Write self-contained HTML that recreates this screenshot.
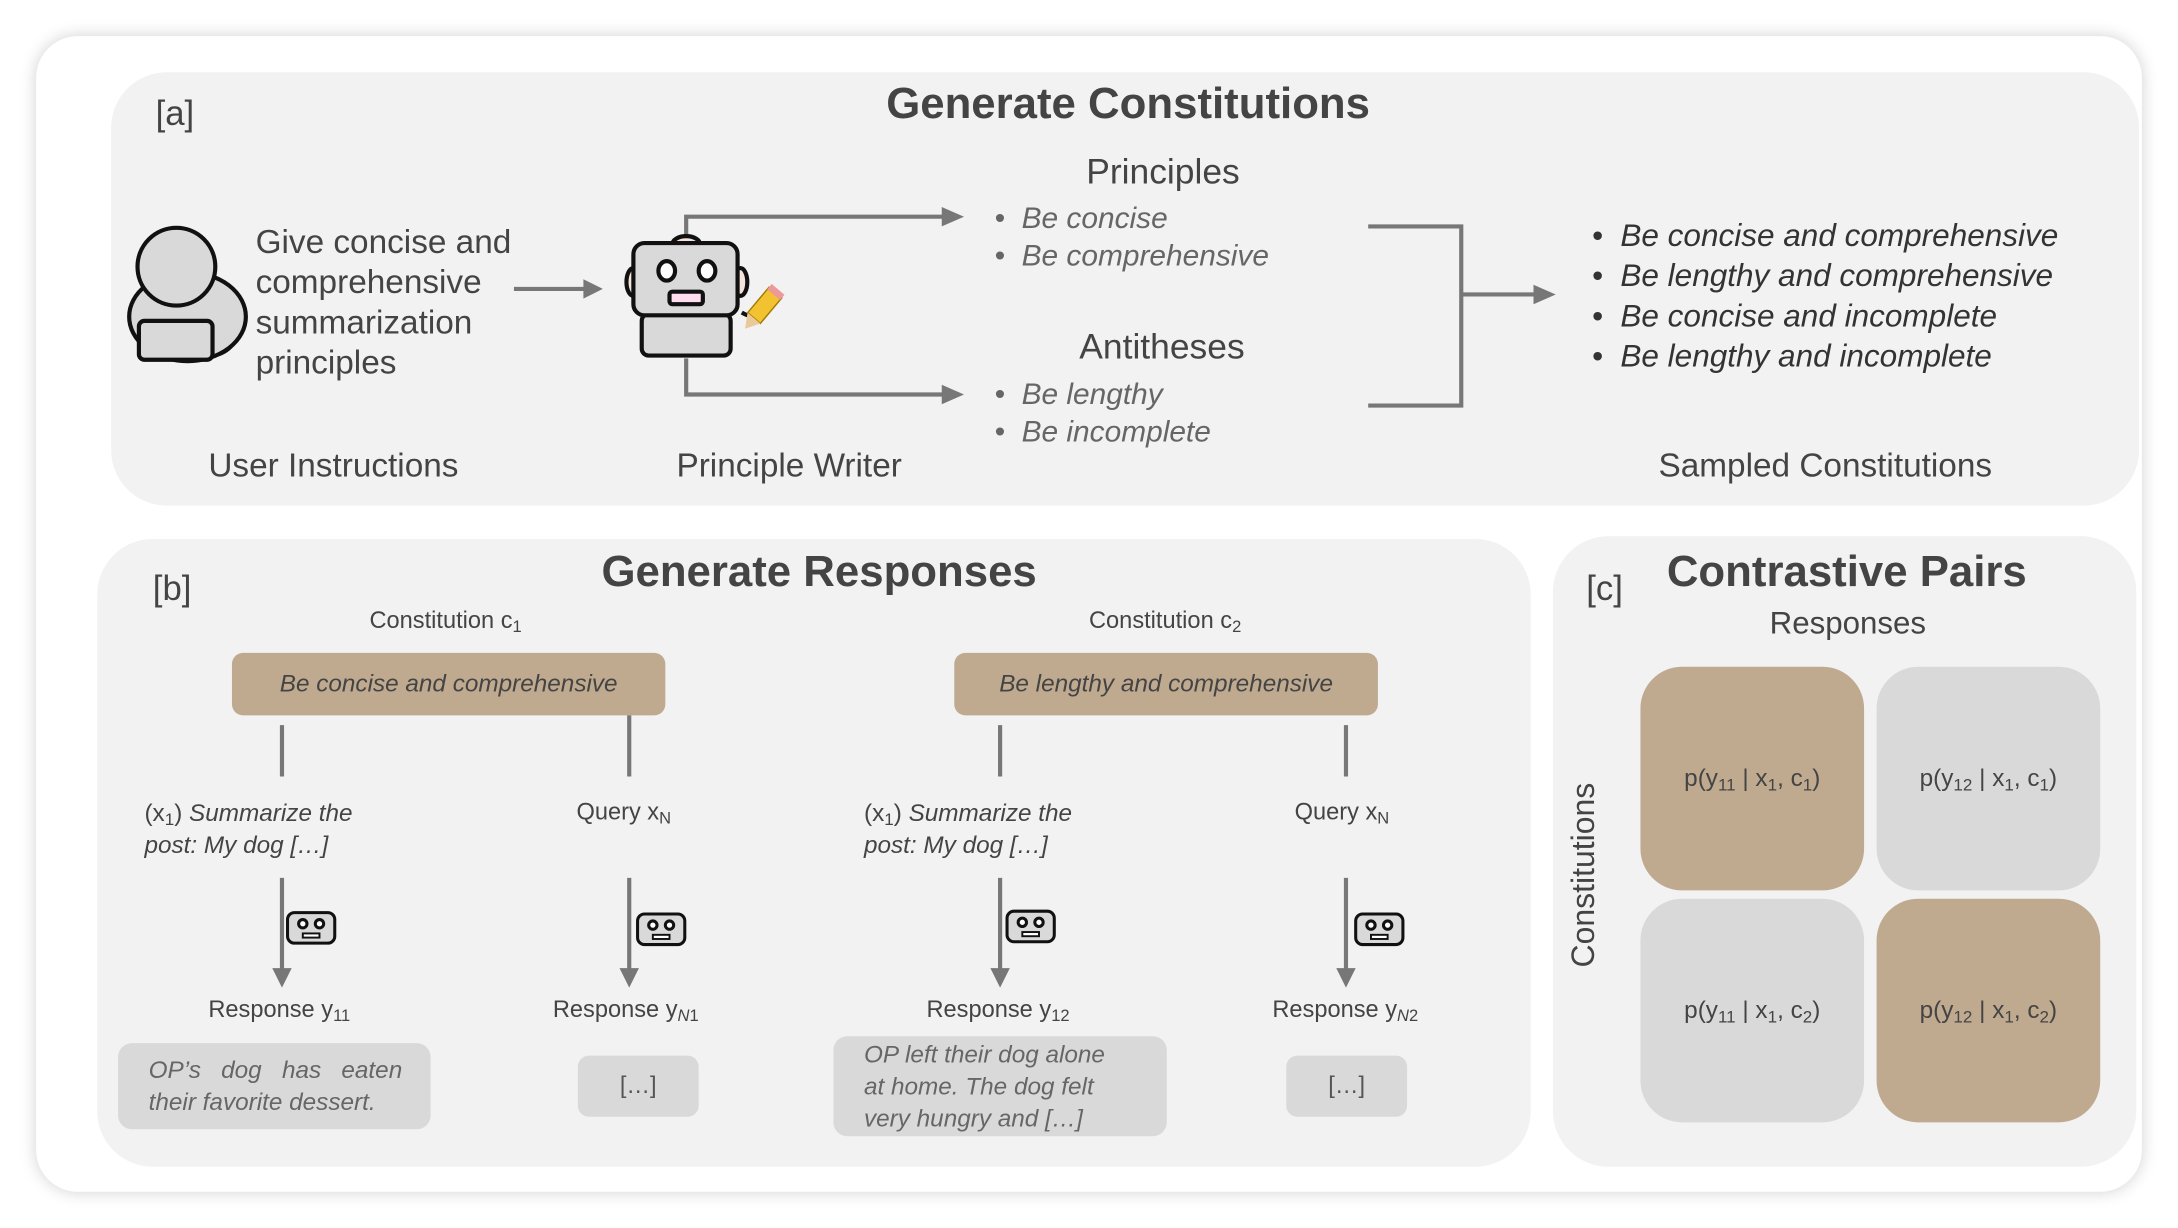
<!DOCTYPE html>
<html><head><meta charset="utf-8"><style>
html,body{margin:0;padding:0;width:2178px;height:1228px;overflow:hidden;background:#fff;}
#s{position:absolute;left:0;top:0;width:1568px;height:884px;transform:scale(1.38903);transform-origin:0 0;font-family:"Liberation Sans",sans-serif;color:#444;}
.a{position:absolute;}
.p{position:absolute;background:#f2f2f2;}
.t{position:absolute;white-space:nowrap;}
.it{font-style:italic;color:#666;}
.box{position:absolute;border-radius:8px;display:flex;align-items:center;justify-content:center;}
.tan{background:#bfaa90;}
.gr{background:#d9d9d9;}
sub{font-size:0.7em;vertical-align:-0.25em;line-height:0;}
.cell{position:absolute;width:161px;height:161px;border-radius:30px;display:flex;align-items:center;justify-content:center;font-size:17.5px;color:#444;}
</style></head><body><div id="s">
<div class="a" style="left:26px;top:26px;width:1516px;height:832px;background:#fff;border-radius:30px;box-shadow:0 0 12px rgba(0,0,0,0.18);"></div>
<!-- panel a -->
<div class="p" style="left:80px;top:52px;width:1460px;height:312px;border-radius:40px;"></div>
<div class="t" style="left:112px;top:68px;font-size:25px;">[a]</div>
<div class="t" style="left:638px;top:56px;font-size:31.5px;font-weight:bold;">Generate Constitutions</div>
<div class="t" style="left:184px;top:160px;font-size:24px;line-height:29px;">Give concise and<br>comprehensive<br>summarization<br>principles</div>
<div class="t" style="left:150px;top:322px;font-size:24px;">User Instructions</div>
<div class="t" style="left:487px;top:322px;font-size:24px;">Principle Writer</div>
<div class="t" style="left:1194px;top:322px;font-size:24px;">Sampled Constitutions</div>
<div class="t" style="left:782px;top:110px;font-size:25.5px;">Principles</div>
<div class="t" style="left:777px;top:236px;font-size:25.5px;">Antitheses</div>
<div class="t it" style="left:716px;top:144px;font-size:21.5px;line-height:27px;">•&nbsp; Be concise<br>•&nbsp; Be comprehensive</div>
<div class="t it" style="left:716px;top:271px;font-size:21.5px;line-height:27px;">•&nbsp; Be lengthy<br>•&nbsp; Be incomplete</div>
<div class="t" style="left:1146px;top:155px;font-size:22.7px;line-height:29px;font-style:italic;color:#333;">•&nbsp; Be concise and comprehensive<br>•&nbsp; Be lengthy and comprehensive<br>•&nbsp; Be concise and incomplete<br>•&nbsp; Be lengthy and incomplete</div>
<svg class="a" style="left:0;top:0" width="1568" height="884">
<g stroke="#777" stroke-width="3" fill="none">
<line x1="370" y1="208" x2="422" y2="208"/>
<polyline points="494,175 494,156 680,156"/>
<polyline points="494,258 494,284 680,284"/>
<polyline points="985,163 1052,163 1052,292 985,292"/>
<line x1="1052" y1="212" x2="1106" y2="212"/>
</g>
<g fill="#777">
<polygon points="420,201 434,208 420,215"/>
<polygon points="678,149 694,156 678,163"/>
<polygon points="678,277 694,284 678,291"/>
<polygon points="1104,205 1120,212 1104,219"/>
</g>
<g stroke="#111" stroke-width="3" fill="#d9d9d9">
<path d="M150,212 a20,20 0 1 1 1,44 z"/>
<ellipse cx="135" cy="228" rx="42" ry="32"/>
<circle cx="127" cy="192" r="28"/>
<rect x="100" y="231" width="53" height="28" rx="4"/>
</g>
<g stroke="#111" stroke-width="3" fill="#d9d9d9">
<path d="M534,225 q14,8 20,-6" fill="none"/>
<rect x="462" y="226" width="64" height="30" rx="5"/>
<ellipse cx="494" cy="176" rx="10" ry="6" fill="#f4e4dc"/>
<ellipse cx="456" cy="203" rx="5" ry="10" fill="#f4e4dc"/>
<ellipse cx="533" cy="203" rx="5" ry="10" fill="#f4e4dc"/>
<rect x="456" y="175" width="75" height="52" rx="8"/>
<ellipse cx="480" cy="195" rx="6" ry="7" fill="#fff"/>
<ellipse cx="509" cy="195" rx="6" ry="7" fill="#fff"/>
<rect x="482" y="210" width="24" height="9" rx="2" fill="#fde"/>
</g>
<g transform="rotate(40 550 222)"><rect x="543" y="208" width="12" height="24" fill="#f2c230" stroke="#a07a00" stroke-width="1"/><rect x="543" y="205" width="12" height="5" fill="#e99"/><polygon points="543,232 555,232 549,242" fill="#e9c99a"/></g>
</svg>
<!-- panel b -->
<div class="p" style="left:70px;top:388px;width:1032px;height:452px;border-radius:40px;"></div>
<div class="t" style="left:110px;top:410px;font-size:25px;">[b]</div>
<div class="t" style="left:433px;top:393px;font-size:31.5px;font-weight:bold;">Generate Responses</div>
<div class="t" style="left:266px;top:437px;font-size:17px;">Constitution c<sub>1</sub></div>
<div class="t" style="left:784px;top:437px;font-size:17px;">Constitution c<sub>2</sub></div>
<div class="box tan it" style="left:167px;top:470px;width:312px;height:45px;font-size:17.5px;color:#444;">Be concise and comprehensive</div>
<div class="box tan it" style="left:687px;top:470px;width:305px;height:45px;font-size:17.5px;color:#444;">Be lengthy and comprehensive</div>
<div class="t" style="left:104px;top:574px;font-size:17.5px;line-height:23px;">(x<sub>1</sub>) <i>Summarize the<br>post: My dog […]</i></div>
<div class="t" style="left:622px;top:574px;font-size:17.5px;line-height:23px;">(x<sub>1</sub>) <i>Summarize the<br>post: My dog […]</i></div>
<div class="t" style="left:415px;top:575px;font-size:17px;">Query x<sub>N</sub></div>
<div class="t" style="left:932px;top:575px;font-size:17px;">Query x<sub>N</sub></div>
<div class="t" style="left:150px;top:717px;font-size:17px;">Response y<sub>11</sub></div>
<div class="t" style="left:398px;top:717px;font-size:17px;">Response y<sub><i>N</i>1</sub></div>
<div class="t" style="left:667px;top:717px;font-size:17px;">Response y<sub>12</sub></div>
<div class="t" style="left:916px;top:717px;font-size:17px;">Response y<sub><i>N</i>2</sub></div>
<div class="box gr it" style="left:85px;top:751px;width:225px;height:62px;font-size:17.5px;line-height:23px;border-radius:10px;text-align:left;justify-content:flex-start;"><div style="padding-left:22px;">OP’s&nbsp;&nbsp; dog&nbsp;&nbsp; has&nbsp;&nbsp; eaten<br>their favorite dessert.</div></div>
<div class="box gr" style="left:416px;top:760px;width:87px;height:44px;font-size:17px;color:#555;">[…]</div>
<div class="box gr it" style="left:600px;top:746px;width:240px;height:72px;font-size:17.5px;line-height:23px;border-radius:10px;justify-content:flex-start;"><div style="padding-left:22px;">OP left their dog alone<br>at home. The dog felt<br>very hungry and […]</div></div>
<div class="box gr" style="left:926px;top:760px;width:87px;height:44px;font-size:17px;color:#555;">[…]</div>
<svg class="a" style="left:0;top:0" width="1568" height="884">
<g stroke="#777" stroke-width="3">
<line x1="203" y1="522" x2="203" y2="559"/><line x1="453" y1="515" x2="453" y2="559"/>
<line x1="720" y1="522" x2="720" y2="559"/><line x1="969" y1="522" x2="969" y2="559"/>
<line x1="203" y1="632" x2="203" y2="700"/><line x1="453" y1="632" x2="453" y2="700"/>
<line x1="720" y1="632" x2="720" y2="700"/><line x1="969" y1="632" x2="969" y2="700"/>
</g>
<g fill="#777">
<polygon points="196,697 210,697 203,711"/><polygon points="446,697 460,697 453,711"/>
<polygon points="713,697 727,697 720,711"/><polygon points="962,697 976,697 969,711"/>
</g>
<g id="rb" stroke="#111" stroke-width="2.2" fill="#d9d9d9">
<rect x="207" y="657" width="34" height="22" rx="5"/>
<circle cx="218" cy="665" r="3" fill="#fff"/><circle cx="230" cy="665" r="3" fill="#fff"/>
<rect x="218" y="672" width="12" height="3" fill="#fff" stroke-width="1.4"/>
</g>
<use href="#rb" x="252" y="1"/><use href="#rb" x="518" y="-1"/><use href="#rb" x="769" y="1"/>
</svg>
<!-- panel c -->
<div class="p" style="left:1118px;top:386px;width:420px;height:454px;border-radius:40px;"></div>
<div class="t" style="left:1142px;top:410px;font-size:25px;">[c]</div>
<div class="t" style="left:1200px;top:393px;font-size:31.5px;font-weight:bold;">Contrastive Pairs</div>
<div class="t" style="left:1274px;top:436px;font-size:22.5px;">Responses</div>
<div class="t" style="left:1140px;top:630px;font-size:23px;transform:translate(-50%,-50%) rotate(-90deg);">Constitutions</div>
<div class="cell tan" style="left:1181px;top:480px;"><span>p(y<sub>11</sub> | x<sub>1</sub>, c<sub>1</sub>)</span></div>
<div class="cell gr" style="left:1351px;top:480px;"><span>p(y<sub>12</sub> | x<sub>1</sub>, c<sub>1</sub>)</span></div>
<div class="cell gr" style="left:1181px;top:647px;"><span>p(y<sub>11</sub> | x<sub>1</sub>, c<sub>2</sub>)</span></div>
<div class="cell tan" style="left:1351px;top:647px;"><span>p(y<sub>12</sub> | x<sub>1</sub>, c<sub>2</sub>)</span></div>
</div></body></html>
